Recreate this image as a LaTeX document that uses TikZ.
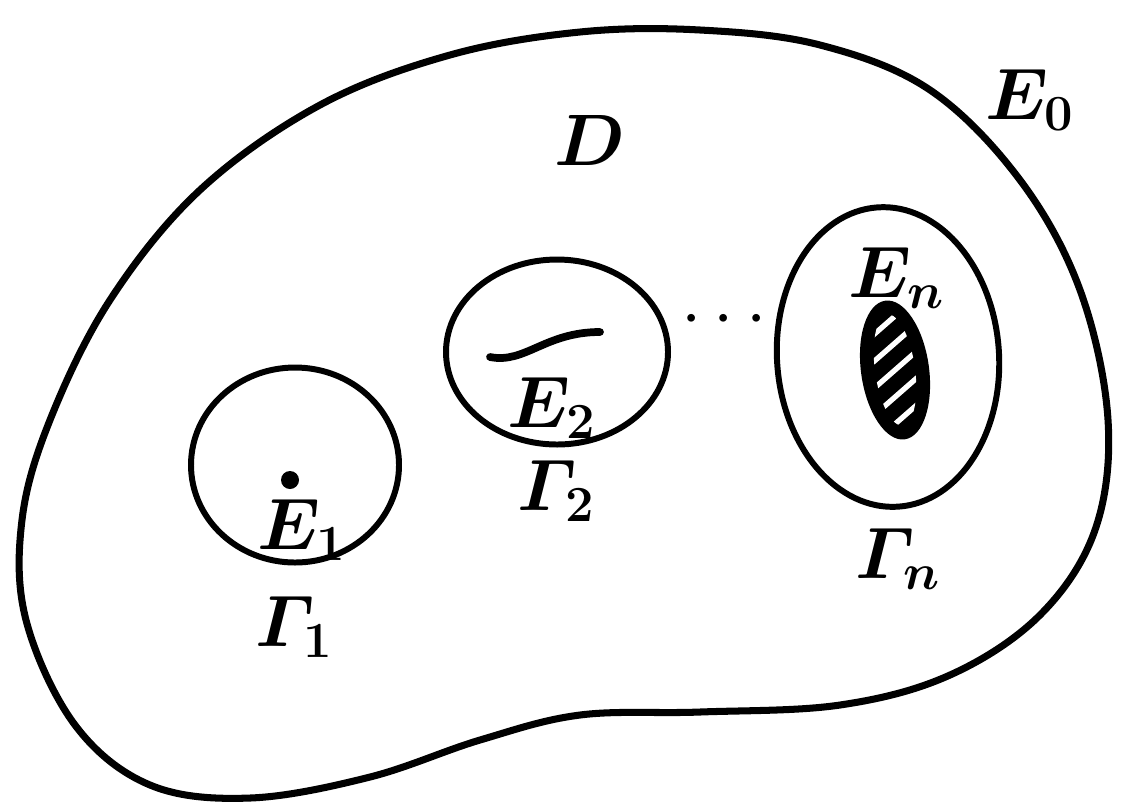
\documentclass[tikz,border=0pt]{standalone}
\usepackage{amsmath}
\usepackage{bm}
\usepackage{tikz}
\usetikzlibrary{shapes.geometric, positioning, calc}

\begin{document}
\begin{tikzpicture}[
    hole/.style={ellipse, draw=black, line width=1.7pt, inner sep=0pt},
    lbl/.style={inner sep=0pt, font=\fontsize{20}{24}\selectfont},
    node distance=0.45cm
]
    \useasboundingbox (0,0) rectangle (11.24,8.04);

    % Outer boundary E_0
    \draw[line width=2pt] plot[smooth cycle, tension=0.6] coordinates {
        (7.00,7.74) (8.20,7.59) (9.30,7.14) (10.20,6.24) (10.80,5.14)
        (11.08,3.84) (10.95,2.74) (10.40,1.89) (9.50,1.29) (8.40,0.99)
        (7.00,0.92) (5.80,0.89) (4.80,0.64) (3.70,0.27) (2.50,0.06)
        (1.50,0.19) (0.75,0.79) (0.26,1.84) (0.22,2.84) (0.50,3.84)
        (1.10,5.04) (2.00,6.14) (3.20,6.99) (4.50,7.49) (5.80,7.72)};

    % Holes
    \node[hole, minimum width=2.08cm, minimum height=1.95cm] (g1) at (2.95,3.39) {};
    \node[hole, minimum width=2.22cm, minimum height=1.85cm] (g2) at (5.57,4.52) {};
    \node[hole, minimum width=2.22cm, minimum height=3.0cm, rotate=4] (gn) at (8.88,4.47) {};

    % E_1: a point
    \fill (2.90,3.24) circle (0.09);
    % E_2: an arc
    \draw[line width=2.2pt, line cap=round] (4.90,4.47) .. controls (5.25,4.40) and (5.45,4.72) .. (6.00,4.72);
    % E_n: a hatched set
    \node[ellipse, fill=black, minimum width=0.68cm, minimum height=1.40cm, inner sep=0pt, rotate=8] (blob) at (8.95,4.34) {};
    \begin{scope}
        \clip[rotate around={8:(8.95,4.34)}] (8.95,4.34) ellipse (0.2cm and 0.56cm);
        \foreach \k in {-4,...,4}
            \draw[white, line width=1.5pt] ($(8.95,4.34)+(-0.4,0.27*\k-0.35)$) -- ++(0.8,0.7);
    \end{scope}

    % Labels
    \node[lbl] (e0) at (10.30,7.04) {$\bm{E}_{\bm{0}}$};
    \node[lbl] (d) at (5.90,6.64) {$\bm{D}$};
    \node[lbl] (e1) at (3.02,2.74) {$\bm{E}_{\bm{1}}$};
    \node[lbl] (e2) at (5.52,3.96) {$\bm{E}_{\bm{2}}$};
    \node[lbl] (en) at (8.97,5.26) {$\bm{E}_{\bm{n}}$};
    \node[lbl, below=0.3cm of g1] (c1) {$\bm{\varGamma}_{\bm{1}}$};
    \node[lbl, below=0.12cm of g2] (c2) {$\bm{\varGamma}_{\bm{2}}$};
    \node[lbl, below=0.18cm of gn] (cn) {$\bm{\varGamma}_{\bm{n}}$};
    \node[lbl] (dots) at (7.30,4.84) {$\cdots$};

\end{tikzpicture}
\end{document}
